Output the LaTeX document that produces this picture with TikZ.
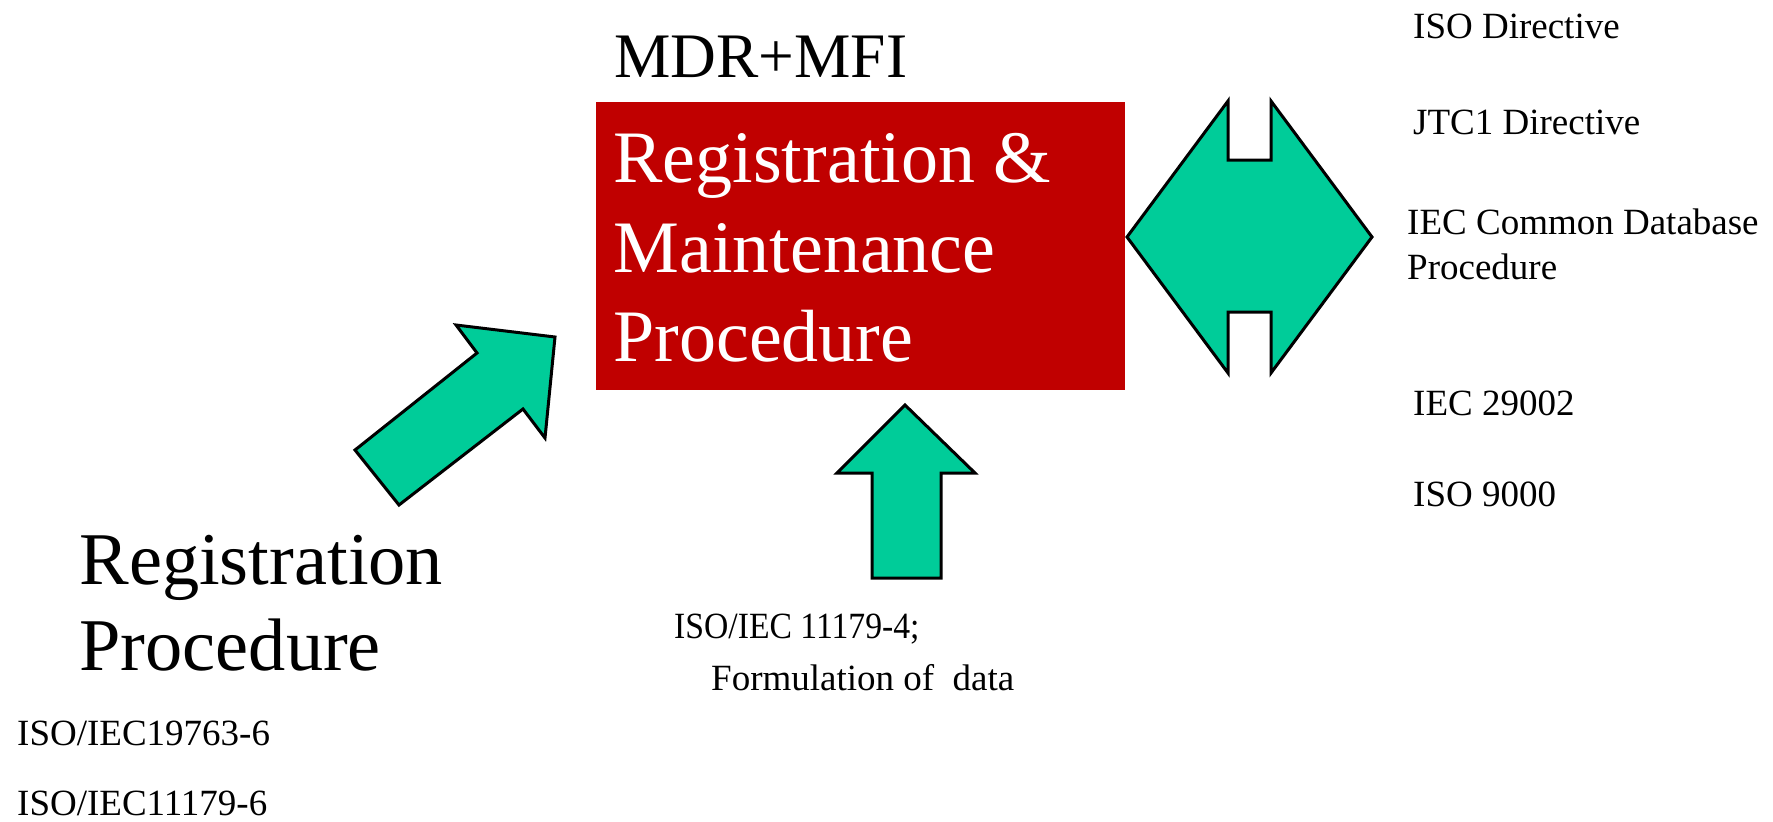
\documentclass[tikz,border=0pt]{standalone}
\usepackage{fontspec}
\setmainfont{Liberation Serif}
\definecolor{boxred}{RGB}{192,0,0}
\definecolor{arrowgreen}{RGB}{0,204,153}
\tikzset{
  txt/.style={inner sep=0pt, anchor=base west, font=\fontsize{37}{44}\selectfont},
  bigtxt/.style={inner sep=0pt, anchor=base west, scale=2, font=\fontsize{37.2}{44}\selectfont},
  boxtxt/.style={inner sep=0pt, anchor=base west, scale=2, text=white, font=\fontsize{37}{44}\selectfont},
  greenarrow/.style={fill=arrowgreen, draw=black, line width=3pt, line join=miter}
}
\begin{document}
\begin{tikzpicture}[x=1pt,y=-1pt]
\useasboundingbox (0,0) rectangle (1773,822);
% title
\node[inner sep=0pt, anchor=base west, scale=2, font=\fontsize{31.7}{40}\selectfont] (mdr) at (614,77) {MDR+MFI};
% red box
\fill[boxred] (596,102) rectangle (1125,390);
\coordinate (box) at (860,246);
\node[boxtxt] (bt1) at (613,182) {Registration \&};
\node[boxtxt] (bt2) at (613,272) {Maintenance};
\node[boxtxt] (bt3) at (613,361) {Procedure};
% double arrow (right)
\draw[greenarrow] (1127,237) -- (1228,101) -- (1228,160) -- (1271,160) -- (1271,101)
  -- (1372,237) -- (1271,373) -- (1271,312) -- (1228,312) -- (1228,373) -- cycle;
% diagonal arrow
\draw[greenarrow] (355,450) -- (477,353) -- (456,325) -- (555,337) -- (545,438)
  -- (523,409) -- (399,505) -- cycle;
% up arrow
\draw[greenarrow] (905,405) -- (975,473) -- (941,473) -- (941,578) -- (872,578)
  -- (872,473) -- (837,473) -- cycle;
% right texts
\node[txt] (r1) at (1413,38) {ISO Directive};
\node[txt] (r2) at (1413,134) {JTC1 Directive};
\node[txt] (r3a) at (1407,234) {IEC Common Database};
\node[txt] (r3b) at (1407,279) {Procedure};
\node[txt] (r4) at (1413,415) {IEC 29002};
\node[txt] (r5) at (1413,506) {ISO 9000};
% bottom centre
\node[txt, xscale=0.91] (c1) at (674,638) {ISO/IEC 11179-4;};
\node[txt] (c2) at (711,690) {Formulation of\ \ data};
% bottom left
\node[bigtxt] (l1) at (79,584) {Registration};
\node[bigtxt] (l2) at (79,670) {Procedure};
\node[txt] (l3) at (17,745) {ISO/IEC19763-6};
\node[txt] (l4) at (17,815) {ISO/IEC11179-6};
\end{tikzpicture}
\end{document}
